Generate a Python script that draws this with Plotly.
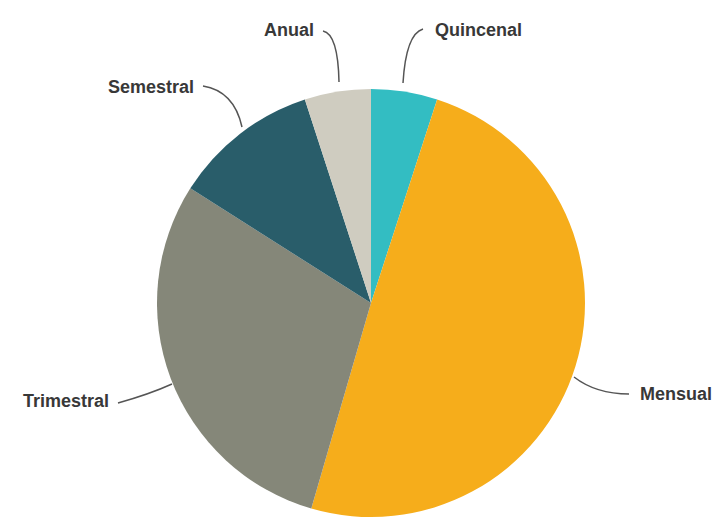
import plotly.graph_objects as go

labels = ["Quincenal", "Mensual", "Trimestral", "Semestral", "Anual"]
values = [5, 49.5, 29.5, 11, 5]
colors = ["#33bdc2", "#f6ad1b", "#858779", "#295d6a", "#cfccc0"]

W, H = 723, 530
OFF = 8  # page body margin offset

def px(x, y):
    return (x - OFF) / W, 1 - (y - OFF) / H

cx, cy, r = 371, 303, 214
x0, y1 = px(cx - r, cy - r)
x1, y0 = px(cx + r, cy + r)

fig = go.Figure(go.Pie(
    labels=labels, values=values, sort=False, direction="clockwise", rotation=0,
    marker=dict(colors=colors, line=dict(color="white", width=0)),
    textinfo="none", hoverinfo="label+percent",
    domain=dict(x=[x0, x1], y=[y0, y1]),
    showlegend=False,
))

# label positions (pixels): text, x, y, anchor
label_pos = [
    ("Quincenal", 433, 30, "left"),
    ("Mensual", 638, 394, "left"),
    ("Trimestral", 111, 401, "right"),
    ("Semestral", 196, 87, "right"),
    ("Anual", 316, 30, "right"),
]
annotations = []
for t, x, y, a in label_pos:
    xp, yp = px(x, y)
    annotations.append(dict(text="<b>" + t + "</b>", x=xp, y=yp, xref="paper", yref="paper",
                            xanchor=a, yanchor="middle", showarrow=False,
                            font=dict(family="Liberation Sans, Arial", size=18, color="#383838")))

# leader lines (pixel control points)
leaders = [
    [(423, 29), (406, 34), (403, 83)],
    [(629, 394), (596, 394), (574, 377)],
    [(118, 403), (150, 394), (172, 384)],
    [(203, 86), (234, 91), (242, 127)],
    [(323, 31), (338, 34), (339, 82)],
]
shapes = []
for p0, c, p1 in leaders:
    a = px(*p0); b = px(*c); d = px(*p1)
    path = f"M {a[0]},{a[1]} Q {b[0]},{b[1]} {d[0]},{d[1]}"
    shapes.append(dict(type="path", path=path, xref="paper", yref="paper",
                       line=dict(color="#555555", width=1.5)))

fig.update_layout(width=W, height=H, margin=dict(l=0, r=0, t=0, b=0),
                  paper_bgcolor="white", plot_bgcolor="white",
                  annotations=annotations, shapes=shapes)
fig.write_html("out.html")
